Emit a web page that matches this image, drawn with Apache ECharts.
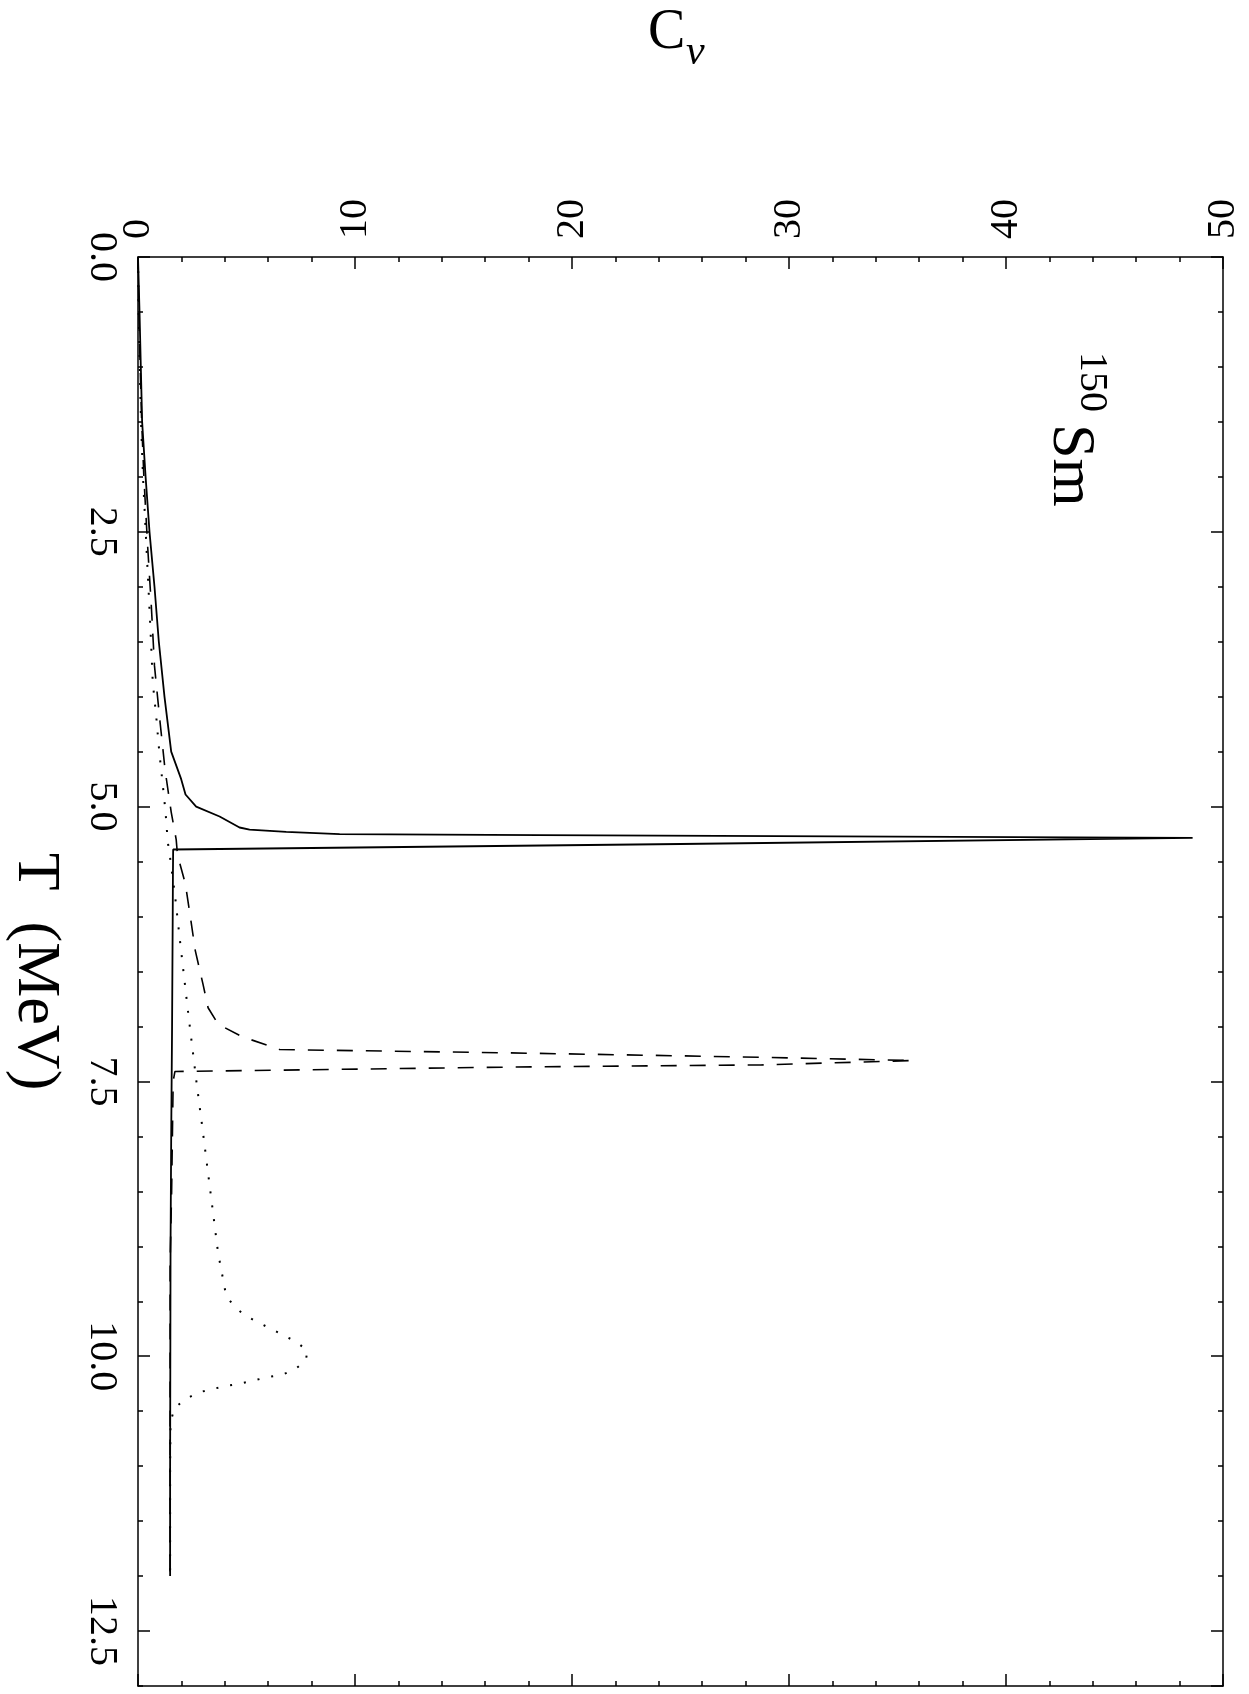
<!DOCTYPE html>
<html>
<head>
<meta charset="utf-8">
<script src="https://cdn.jsdelivr.net/npm/echarts@6/dist/echarts.min.js"></script>
<style>
html,body{margin:0;padding:0;background:#fff;overflow:hidden;}
#chart{width:1249px;height:1694px;}
</style>
</head>
<body>
<div id="chart"></div>
<script>
// ---- Data (T in MeV, Cv) ----
var solidT  = [0, 0.5, 1.0, 1.5, 2.0, 2.5, 3.0, 3.5, 4.0, 4.5, 4.75, 4.89, 5.0, 5.09, 5.19, 5.21, 5.23, 5.25, 5.26, 5.285, 5.34, 5.39, 5.6, 6.0, 7.0, 8.0, 9.0, 10.0, 11.0, 12.0];
var solidCv = [0, 0.07, 0.13, 0.19, 0.35, 0.53, 0.76, 0.96, 1.22, 1.53, 1.99, 2.19, 2.68, 3.76, 4.68, 5.14, 6.83, 9.29, 18.5, 48.6, 25.0, 1.62, 1.61, 1.6, 1.57, 1.53, 1.5, 1.49, 1.48, 1.48];

var dashT  = [0, 0.5, 1.0, 1.5, 2.0, 2.65, 3.16, 3.72, 4.2, 4.67, 5.05, 5.3, 5.44, 5.7, 6.0, 6.31, 6.62, 6.83, 6.98, 7.09, 7.21, 7.24, 7.28, 7.31, 7.35, 7.37, 7.41, 7.5, 8.5, 9.15, 10.0, 11.0, 12.0];
var dashCv = [0, 0.04, 0.1, 0.17, 0.27, 0.45, 0.61, 0.76, 1.0, 1.25, 1.53, 1.76, 1.82, 2.18, 2.41, 2.64, 3.0, 3.23, 3.7, 4.76, 6.52, 17.0, 28.7, 35.7, 28.7, 17.0, 1.7, 1.62, 1.55, 1.48, 1.48, 1.48, 1.48];

var dotT  = [0, 0.5, 1.0, 1.5, 2.0, 2.6, 3.0, 3.5, 3.87, 4.18, 4.5, 4.8, 5.05, 5.32, 5.45, 5.8, 6.23, 6.89, 7.53, 7.91, 8.29, 8.68, 9.06, 9.32, 9.45, 9.55, 9.63, 9.69, 9.75, 9.81, 9.87, 9.95, 10.04, 10.12, 10.17, 10.19, 10.22, 10.25, 10.27, 10.3, 10.33, 10.39, 10.47, 10.6, 11.0, 12.0];
var dotCv = [0, 0.03, 0.08, 0.14, 0.23, 0.38, 0.48, 0.6, 0.68, 0.84, 0.98, 1.14, 1.27, 1.37, 1.47, 1.7, 1.94, 2.32, 2.71, 2.96, 3.2, 3.45, 3.69, 3.94, 4.06, 4.45, 4.94, 5.52, 6.12, 6.72, 7.3, 7.81, 7.73, 7.23, 6.63, 5.98, 5.35, 4.69, 4.06, 3.4, 2.77, 2.19, 1.68, 1.5, 1.48, 1.48];

var cvTicks = [0, 10, 20, 30, 40, 50];
var tTickLabels = ['0.0', '2.5', '5.0', '7.5', '10.0', '12.5'];

function pairs(ts, cs) { return ts.map(function (t, i) { return [cs[i], t]; }); }

var FONT = '"Liberation Serif", "DejaVu Serif", serif';
var black = '#000';

function xAx(pos, major, labels) {
  return {
    type: 'value', position: pos, min: 0, max: 50, interval: major ? 10 : 2,
    axisLine: { show: major, onZero: false, lineStyle: { color: black, width: 1.5 } },
    axisTick: { show: true, inside: true, length: major ? 12 : 5, lineStyle: { color: black, width: 1.5 } },
    axisLabel: labels ? { show: true, rotate: -90, margin: 18, color: black, fontFamily: FONT, fontSize: 40 } : { show: false },
    splitLine: { show: false }
  };
}
function yAx(pos, major, labels) {
  return {
    type: 'value', position: pos, min: 0, max: 13, interval: major ? 2.5 : 0.5, inverse: true,
    axisLine: { show: major, onZero: false, lineStyle: { color: black, width: 1.5 } },
    axisTick: { show: true, inside: true, length: major ? 12 : 5, lineStyle: { color: black, width: 1.5 } },
    axisLabel: labels ? {
      show: true, rotate: -90, margin: 17, color: black, fontFamily: FONT, fontSize: 40,
      showMaxLabel: false,
      formatter: function (v) { var i = Math.round(v / 2.5); return tTickLabels[i] !== undefined ? tTickLabels[i] : ''; }
    } : { show: false },
    name: labels ? 'T  (MeV)' : '',
    nameLocation: 'middle', nameRotate: -90, nameGap: 72,
    nameTextStyle: { color: black, fontFamily: FONT, fontSize: 62 },
    splitLine: { show: false }
  };
}

var chart = echarts.init(document.getElementById('chart'));
chart.setOption({
  animation: false,
  backgroundColor: '#fff',
  grid: { left: 138, right: 26, top: 257, bottom: 8, containLabel: false, outerBoundsMode: 'none' },
  xAxis: [xAx('top', true, true), xAx('top', false, false), xAx('bottom', true, false), xAx('bottom', false, false)],
  yAxis: [yAx('left', true, true), yAx('left', false, false), yAx('right', true, false), yAx('right', false, false)],
  series: [
    { type: 'line', xAxisIndex: 0, yAxisIndex: 0, data: pairs(dotT, dotCv), symbol: 'none',
      lineStyle: { color: black, width: 2, type: [2, 12] } },
    { type: 'line', xAxisIndex: 0, yAxisIndex: 0, data: pairs(dashT, dashCv), symbol: 'none',
      lineStyle: { color: black, width: 1.6, type: [16, 13] } },
    { type: 'line', xAxisIndex: 0, yAxisIndex: 0, data: pairs(solidT, solidCv), symbol: 'none',
      lineStyle: { color: black, width: 1.8, type: 'solid' } }
  ],
  graphic: [
    { type: 'text', x: 648, y: 33, style: { text: 'C', font: '56px ' + FONT, fill: black, textAlign: 'left', textVerticalAlign: 'middle' } },
    { type: 'text', x: 686, y: 53, style: { text: 'v', font: 'italic 42px ' + FONT, fill: black, textAlign: 'left', textVerticalAlign: 'middle' } },
    { type: 'text', x: 1091, y: 352, rotation: -Math.PI / 2, style: { text: '150', font: '40px ' + FONT, fill: black, textAlign: 'left', textVerticalAlign: 'middle' } },
    { type: 'text', x: 1070, y: 424, rotation: -Math.PI / 2, style: { text: 'Sm', font: '62px ' + FONT, fill: black, textAlign: 'left', textVerticalAlign: 'middle' } }
  ]
});
</script>
</body>
</html>
